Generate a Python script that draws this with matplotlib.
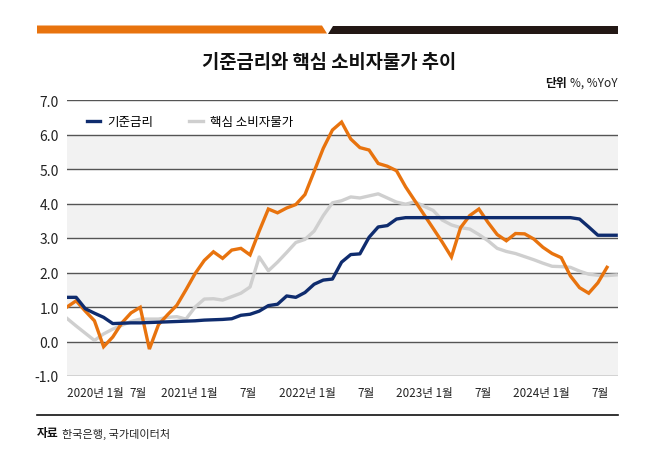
import numpy as np
import matplotlib
matplotlib.use("Agg")
import matplotlib.pyplot as plt
from matplotlib.patches import Polygon
from matplotlib.lines import Line2D

plt.rcParams['font.family'] = ['Noto Sans CJK KR', 'DejaVu Sans']

#----------------------------------------------------------------#
# 데이터 (2020년 1월 ~ 2025년 1월, 월별)

base_rate = [1.28, 1.28, 0.95, 0.82, 0.70, 0.52, 0.53, 0.54, 0.54, 0.55,
             0.56, 0.57, 0.58, 0.59, 0.60, 0.62, 0.63, 0.64, 0.66, 0.76,
             0.79, 0.88, 1.04, 1.08, 1.32, 1.28, 1.42, 1.66, 1.78, 1.81,
             2.30, 2.52, 2.54, 3.02, 3.32, 3.36, 3.55, 3.59, 3.59, 3.59,
             3.59, 3.59, 3.59, 3.59, 3.59, 3.59, 3.59, 3.59, 3.59, 3.59,
             3.59, 3.59, 3.59, 3.59, 3.59, 3.59, 3.55, 3.32, 3.08, 3.08,
             3.08]

core_cpi = [0.67, 0.45, 0.24, 0.03, 0.22, 0.36, 0.47, 0.58, 0.65, 0.65,
            0.65, 0.70, 0.72, 0.65, 1.00, 1.23, 1.24, 1.20, 1.30, 1.40,
            1.58, 2.45, 2.05, 2.30, 2.58, 2.87, 2.96, 3.20, 3.65, 4.02,
            4.08, 4.19, 4.16, 4.22, 4.28, 4.16, 4.04, 3.98, 4.05, 3.92,
            3.80, 3.52, 3.38, 3.30, 3.26, 3.10, 2.92, 2.70, 2.61, 2.55,
            2.46, 2.37, 2.27, 2.18, 2.17, 2.15, 2.04, 1.95, 1.92, 1.91,
            1.93]

headline_cpi = [1.00, 1.18, 0.88, 0.60, -0.15, 0.13, 0.54, 0.83, 0.99, -0.22,
                0.49, 0.78, 1.05, 1.50, 1.97, 2.35, 2.60, 2.41, 2.65, 2.70,
                2.51, 3.20, 3.84, 3.73, 3.87, 3.97, 4.26, 4.93, 5.60, 6.13,
                6.36, 5.87, 5.62, 5.55, 5.16, 5.08, 4.95, 4.48, 4.08, 3.68,
                3.28, 2.88, 2.45, 3.30, 3.65, 3.84, 3.45, 3.10, 2.92, 3.13,
                3.12, 2.97, 2.73, 2.55, 2.43, 1.90, 1.56, 1.40, 1.70, 2.15]

x_labels = ["2020년 1월", "7월", "2021년 1월", "7월", "2022년 1월",
            "7월", "2023년 1월", "7월", "2024년 1월", "7월"]
y_ticks = [-1, 0, 1, 2, 3, 4, 5, 6, 7]

#----------------------------------------------------------------#

W, H = 658, 464

def fx(px):
    return px / W

def fy(py):
    return 1 - py / H

ORANGE = "#e8730e"
NAVY = "#0f2c6e"
GRAY = "#cfcfcf"
DARK = "#231815"

fig = plt.figure(figsize=(W / 100, H / 100), dpi=100)
ax = fig.add_axes([fx(67), fy(377), fx(618) - fx(67), fy(101) - fy(377)])

# 회색 띠 + 가로선
for lo in (-1, 1, 3, 5):
    ax.axhspan(lo, lo + 1, color="#f2f2f2", lw=0, zorder=0)
for v in y_ticks:
    ax.axhline(v, color="#555555", lw=1.0, zorder=1)

ax.plot(np.arange(len(headline_cpi)), headline_cpi, color=ORANGE, lw=2.4,
        solid_joinstyle="miter", zorder=3, label="_nolegend_")
ax.plot(np.arange(len(core_cpi)), core_cpi, color=GRAY, lw=2.4,
        zorder=2, label="핵심 소비자물가")
ax.plot(np.arange(len(base_rate)), base_rate, color=NAVY, lw=2.4,
        zorder=4, label="기준금리")

ax.set_xlim(0, 60.2)
ax.set_ylim(-1, 7)
ax.set_yticks(y_ticks)
ax.set_yticklabels([f"{v:.1f}" for v in y_ticks])
tick_pos = [3.05, 7.8, 13.4, 19.8, 26.3, 32.7, 39.0, 45.5, 51.8, 58.2]
ax.set_xticks(tick_pos)
ax.set_xticklabels(x_labels)
ax.tick_params(axis="y", length=0, pad=6, labelsize=10, labelcolor="#222222")
ax.tick_params(axis="x", length=0, pad=7, labelsize=8.4, labelcolor="#222222")
for s in ax.spines.values():
    s.set_visible(False)

h, l = ax.get_legend_handles_labels()
ax.legend(h[::-1], l[::-1], loc="upper left", bbox_to_anchor=(0.015, 0.985),
          ncol=2, frameon=False, fontsize=9, handlelength=1.1,
          handletextpad=0.6, columnspacing=2.8)

# 상단 띠
fig.patches.append(Polygon([(fx(37), fy(26.5)), (fx(322), fy(26.5)),
                            (fx(327), fy(34.5)), (fx(37), fy(34.5))],
                           closed=True, transform=fig.transFigure,
                           color=ORANGE, lw=0))
fig.patches.append(Polygon([(fx(333), fy(26.5)), (fx(618), fy(26.5)),
                            (fx(618), fy(34.5)), (fx(328), fy(34.5))],
                           closed=True, transform=fig.transFigure,
                           color=DARK, lw=0))

fig.text(0.5, fy(62), "기준금리와 핵심 소비자물가 추이", ha="center",
         va="center", fontsize=13.5, fontweight="bold", color="#111111")
fig.text(fx(618), fy(83), "%, %YoY", ha="right", va="center",
         fontsize=8.5, color="#222222")
fig.text(fx(567), fy(83), "단위", ha="right", va="center",
         fontsize=8.5, fontweight="bold", color="#111111")

# 하단 선 + 출처
fig.lines.append(Line2D([fx(37), fx(618)], [fy(416), fy(416)],
                        transform=fig.transFigure, color="#111111", lw=1.2))
fig.text(fx(37), fy(434), "자료", ha="left", va="center",
         fontsize=8.5, fontweight="bold", color="#111111")
fig.text(fx(62), fy(434), "한국은행, 국가데이터처", ha="left", va="center",
         fontsize=8, color="#222222")

fig.savefig("out.png", dpi=100)
